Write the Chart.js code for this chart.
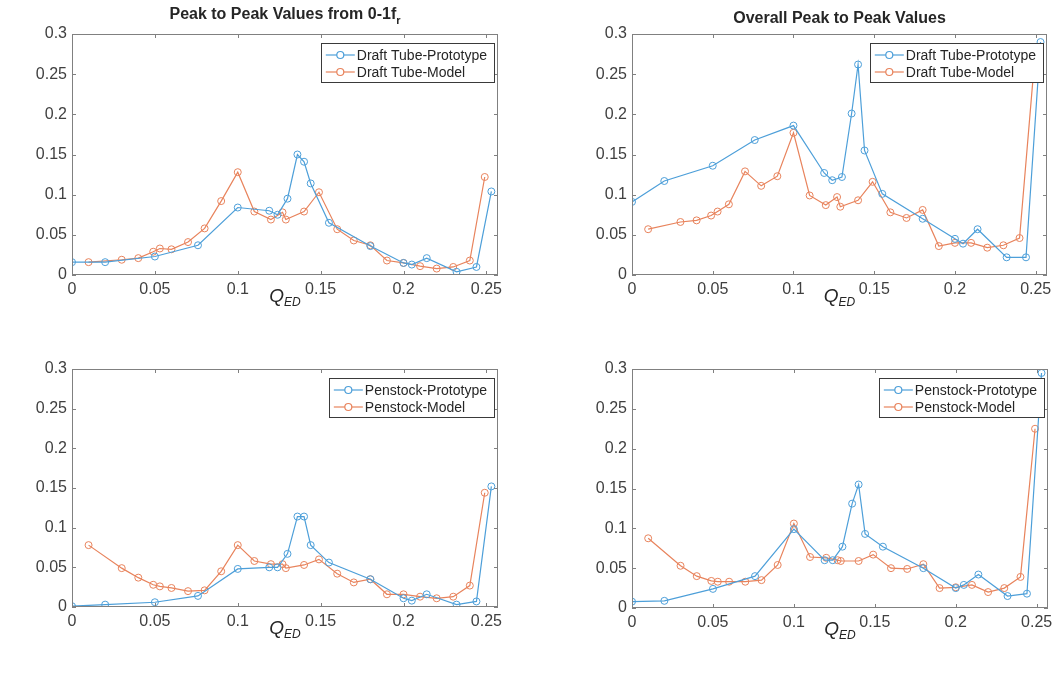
<!DOCTYPE html>
<html>
<head>
<meta charset="utf-8">
<script src="https://cdn.jsdelivr.net/npm/chart.js@4.4.1/dist/chart.umd.min.js"></script>
<style>
  body { margin: 0; background: #fff; }
  #wrap { position: relative; width: 1058px; height: 679px; }
  canvas { position: absolute; }
</style>
</head>
<body>
<div id="wrap">
  <canvas id="c1"></canvas>
  <canvas id="c2"></canvas>
  <canvas id="c3"></canvas>
  <canvas id="c4"></canvas>
</div>
<script>
// ========= Datos =========
const qProto = [0, 0.02, 0.05, 0.076, 0.1, 0.119, 0.124, 0.13, 0.136, 0.14, 0.144, 0.155, 0.18, 0.2, 0.205, 0.214, 0.232, 0.244, 0.253];
const qModel = [0.01, 0.03, 0.04, 0.049, 0.053, 0.06, 0.07, 0.08, 0.09, 0.1, 0.11, 0.12, 0.127, 0.129, 0.14, 0.149, 0.16, 0.17, 0.18, 0.19, 0.2, 0.21, 0.22, 0.23, 0.24, 0.249];

// tubo de aspiracion, 0-1fr
const dtProtoLow = [0.016, 0.016, 0.023, 0.037, 0.084, 0.080, 0.075, 0.095, 0.150, 0.141, 0.114, 0.065, 0.036, 0.015, 0.013, 0.021, 0.004, 0.010, 0.104];
const dtModelLow = [0.016, 0.019, 0.021, 0.029, 0.033, 0.032, 0.041, 0.058, 0.092, 0.128, 0.079, 0.069, 0.078, 0.069, 0.079, 0.103, 0.057, 0.043, 0.037, 0.018, 0.015, 0.011, 0.008, 0.010, 0.018, 0.122];
// tubo de aspiracion, global
const dtProtoAll = [0.091, 0.117, 0.136, 0.168, 0.186, 0.127, 0.118, 0.122, 0.201, 0.262, 0.155, 0.101, 0.070, 0.045, 0.039, 0.057, 0.022, 0.022, 0.290];
const dtModelAll = [0.057, 0.066, 0.068, 0.074, 0.079, 0.088, 0.129, 0.111, 0.123, 0.177, 0.099, 0.087, 0.097, 0.085, 0.093, 0.116, 0.078, 0.071, 0.081, 0.036, 0.040, 0.040, 0.034, 0.037, 0.046, 0.260];
// tuberia forzada, 0-1fr
const psProtoLow = [0.001, 0.003, 0.006, 0.014, 0.048, 0.050, 0.050, 0.067, 0.114, 0.114, 0.078, 0.056, 0.035, 0.011, 0.008, 0.016, 0.003, 0.007, 0.152];
const psModelLow = [0.078, 0.049, 0.037, 0.028, 0.026, 0.024, 0.020, 0.021, 0.045, 0.078, 0.058, 0.054, 0.054, 0.049, 0.053, 0.060, 0.042, 0.031, 0.035, 0.016, 0.016, 0.013, 0.011, 0.013, 0.027, 0.144];
// tuberia forzada, global
const psProtoAll = [0.008, 0.009, 0.024, 0.040, 0.099, 0.060, 0.060, 0.077, 0.131, 0.155, 0.093, 0.077, 0.050, 0.025, 0.029, 0.042, 0.015, 0.018, 0.295];
const psModelAll = [0.0875, 0.053, 0.040, 0.034, 0.033, 0.033, 0.033, 0.035, 0.054, 0.106, 0.064, 0.063, 0.060, 0.059, 0.059, 0.067, 0.050, 0.049, 0.055, 0.025, 0.026, 0.029, 0.020, 0.025, 0.039, 0.225];

const xTicks = [0, 0.05, 0.1, 0.15, 0.2, 0.25];
const yTicks = [0, 0.05, 0.1, 0.15, 0.2, 0.25, 0.3];

const AZUL = '#4d9fd9';
const NARANJA = '#e8835c';
const FUENTE = '"Liberation Sans", Arial, sans-serif';

// ========= Paneles =========
const paneles = [
    { id: 'c1', left: 0, top: 0, w: 529, h: 339, area: { l: 72, r: 498, t: 34, b: 275 }, cpOff: 43,
      titulo: 'Peak to Peak Values from 0-1f', sub: 'r',
      nombres: ['Draft Tube-Prototype', 'Draft Tube-Model'], proto: dtProtoLow, model: dtModelLow },
    { id: 'c2', left: 529, top: 0, w: 529, h: 339, area: { l: 103, r: 518, t: 34, b: 275 }, cpOff: 49,
      titulo: 'Overall Peak to Peak Values', sub: '',
      nombres: ['Draft Tube-Prototype', 'Draft Tube-Model'], proto: dtProtoAll, model: dtModelAll },
    { id: 'c3', left: 0, top: 339, w: 529, h: 340, area: { l: 72, r: 498, t: 30, b: 268 }, cpOff: 43,
      titulo: '', sub: '',
      nombres: ['Penstock-Prototype', 'Penstock-Model'], proto: psProtoLow, model: psModelLow },
    { id: 'c4', left: 529, top: 339, w: 529, h: 340, area: { l: 103, r: 519, t: 30, b: 269 }, cpOff: 49,
      titulo: '', sub: '',
      nombres: ['Penstock-Prototype', 'Penstock-Model'], proto: psProtoAll, model: psModelAll }
];

// ========= Decoracion estilo MATLAB =========
const decor = {
    id: 'decor',
    afterDatasetsDraw(chart, args, o) {
        const { ctx, chartArea: a, scales } = chart;
        ctx.save();
        ctx.strokeStyle = '#808080';
        ctx.lineWidth = 1;
        ctx.strokeRect(a.left + 0.5, a.top + 0.5, a.width - 1, a.height - 1);
        ctx.beginPath();
        xTicks.forEach(v => {
            const px = Math.round(scales.x.getPixelForValue(v)) + 0.5;
            ctx.moveTo(px, a.bottom); ctx.lineTo(px, a.bottom - 4);
            ctx.moveTo(px, a.top); ctx.lineTo(px, a.top + 4);
        });
        yTicks.forEach(v => {
            const py = Math.round(scales.y.getPixelForValue(v)) + 0.5;
            ctx.moveTo(a.left, py); ctx.lineTo(a.left + 4, py);
            ctx.moveTo(a.right, py); ctx.lineTo(a.right - 4, py);
        });
        ctx.stroke();

        // Leyenda
        ctx.font = '14px ' + FUENTE;
        const anchoTxt = Math.max(...o.nombres.map(n => ctx.measureText(n).width));
        const bw = anchoTxt + 43, bh = 39;
        const bx = a.right - 4 - bw, by = a.top + 9;
        ctx.fillStyle = '#fff';
        ctx.fillRect(bx, by, bw, bh);
        ctx.strokeStyle = '#3a3a3a';
        ctx.strokeRect(Math.round(bx) + 0.5, by + 0.5, Math.round(bw), bh);
        [AZUL, NARANJA].forEach((col, i) => {
            const ly = by + 12 + i * 17;
            ctx.strokeStyle = col;
            ctx.lineWidth = 1.2;
            ctx.beginPath();
            ctx.moveTo(bx + 5, ly); ctx.lineTo(bx + 34, ly);
            ctx.stroke();
            ctx.beginPath();
            ctx.arc(bx + 19.5, ly, 3.5, 0, Math.PI * 2);
            ctx.fillStyle = '#fff';
            ctx.fill();
            ctx.stroke();
            ctx.fillStyle = '#262626';
            ctx.textBaseline = 'middle';
            ctx.textAlign = 'left';
            ctx.fillText(o.nombres[i], bx + 36, ly + 1);
        });
        ctx.restore();
    },
    afterDraw(chart, args, o) {
        const { ctx, chartArea: a } = chart;
        ctx.save();
        ctx.fillStyle = '#262626';
        ctx.textBaseline = 'alphabetic';
        const cx = (a.left + a.right) / 2;

        // Titulo
        if (o.titulo) {
            ctx.font = 'bold 16px ' + FUENTE;
            const w1 = ctx.measureText(o.titulo).width;
            ctx.font = 'bold 11px ' + FUENTE;
            const w2 = o.sub ? ctx.measureText(o.sub).width : 0;
            const x0 = cx - (w1 + w2) / 2;
            const yb = o.sub ? a.top - 15 : a.top - 11;
            ctx.font = 'bold 16px ' + FUENTE;
            ctx.textAlign = 'left';
            ctx.fillText(o.titulo, x0, yb);
            if (o.sub) {
                ctx.font = 'bold 11px ' + FUENTE;
                ctx.fillText(o.sub, x0 + w1, yb + 5);
            }
        }

        // Eje x: Q_ED
        ctx.font = 'italic 19px ' + FUENTE;
        const wq = ctx.measureText('Q').width;
        ctx.font = 'italic 12px ' + FUENTE;
        const we = ctx.measureText('ED').width;
        const qx = cx - (wq + we) / 2;
        const qy = a.bottom + 27;
        ctx.textAlign = 'left';
        ctx.font = 'italic 19px ' + FUENTE;
        ctx.fillText('Q', qx, qy);
        ctx.font = 'italic 12px ' + FUENTE;
        ctx.fillText('ED', qx + wq, qy + 4);

        // Eje y: Cp
        ctx.translate(a.left - o.cpOff, (a.top + a.bottom) / 2);
        ctx.rotate(-Math.PI / 2);
        ctx.textAlign = 'center';
        ctx.font = 'italic 19px ' + FUENTE;
        ctx.fillText('Cp', 0, 0);
        ctx.restore();
    }
};

function serie(xs, ys) {
    return xs.map((x, i) => ({ x: x, y: ys[i] }));
}

function crearPanel(p) {
    const cv = document.getElementById(p.id);
    cv.width = p.w;
    cv.height = p.h;
    cv.style.left = p.left + 'px';
    cv.style.top = p.top + 'px';

    const estiloSerie = col => ({
        borderColor: col,
        backgroundColor: 'transparent',
        pointBackgroundColor: 'transparent',
        pointBorderColor: col,
        pointRadius: 3.5,
        pointBorderWidth: 1,
        borderWidth: 1.2,
        tension: 0,
        fill: false
    });

    new Chart(cv, {
        type: 'line',
        data: {
            datasets: [
                Object.assign({ label: p.nombres[0], data: serie(qProto, p.proto) }, estiloSerie(AZUL)),
                Object.assign({ label: p.nombres[1], data: serie(qModel, p.model) }, estiloSerie(NARANJA))
            ]
        },
        plugins: [decor],
        options: {
            responsive: false,
            animation: false,
            devicePixelRatio: 1,
            layout: { padding: { left: 0, top: p.area.t, right: p.w - p.area.r, bottom: 0 } },
            scales: {
                x: {
                    type: 'linear', min: 0, max: 0.257,
                    afterBuildTicks: s => { s.ticks = xTicks.map(v => ({ value: v })); },
                    afterFit: s => { s.height = p.h - p.area.b; },
                    grid: { display: false, drawTicks: false },
                    border: { display: false },
                    ticks: { padding: 5, color: '#404040', font: { family: FUENTE, size: 16 }, maxRotation: 0,
                             callback: v => String(v) }
                },
                y: {
                    type: 'linear', min: 0, max: 0.3,
                    afterBuildTicks: s => { s.ticks = yTicks.map(v => ({ value: v })); },
                    afterFit: s => { s.width = p.area.l; },
                    grid: { display: false, drawTicks: false },
                    border: { display: false },
                    ticks: { padding: 5, color: '#404040', font: { family: FUENTE, size: 16 },
                             callback: v => String(v) }
                }
            },
            plugins: {
                legend: { display: false },
                tooltip: { enabled: false },
                decor: { titulo: p.titulo, sub: p.sub, nombres: p.nombres }
            }
        }
    });
}

// ========= Init =========
paneles.forEach(crearPanel);
</script>
</body>
</html>
